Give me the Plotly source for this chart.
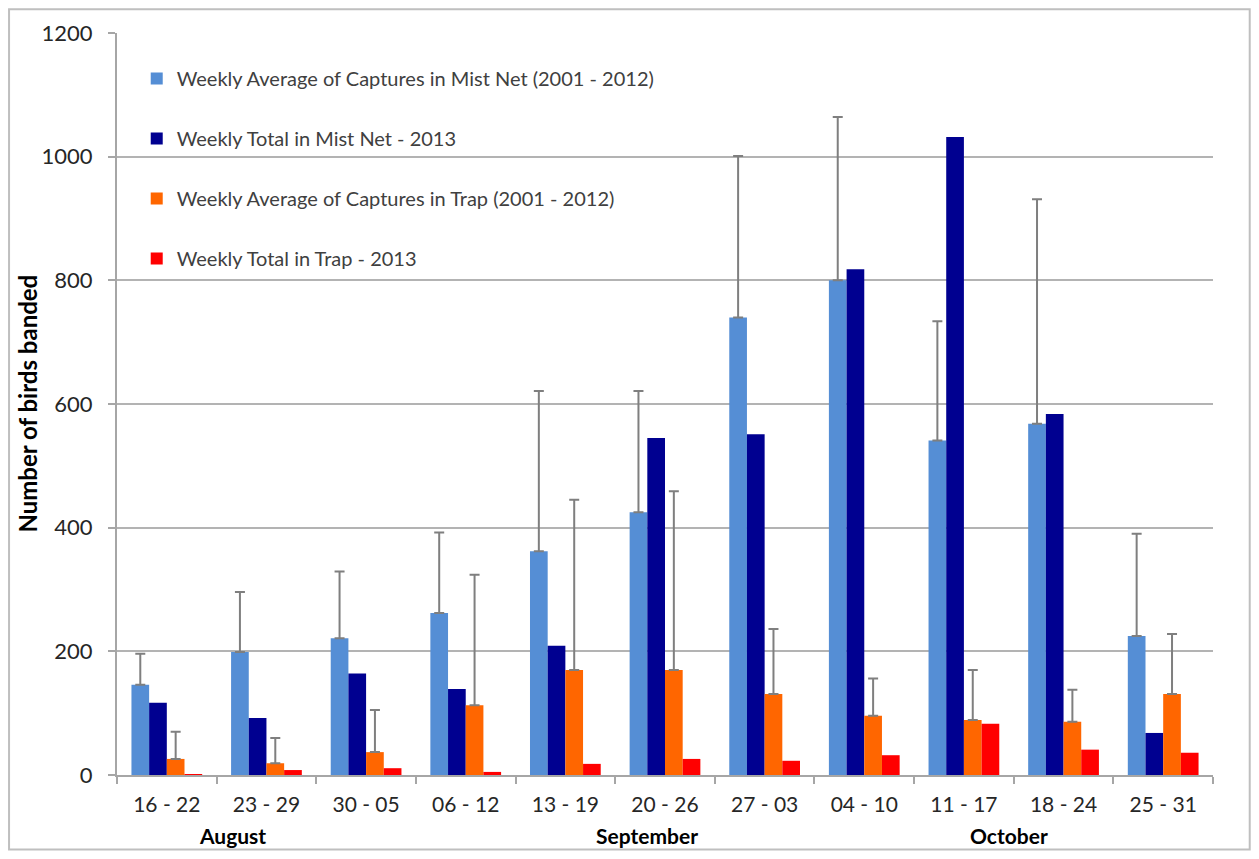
import plotly.graph_objects as go

weeks = ["16 - 22", "23 - 29", "30 - 05", "06 - 12", "13 - 19", "20 - 26",
         "27 - 03", "04 - 10", "11 - 17", "18 - 24", "25 - 31"]
months = ["August", "September", "October"]
month_pos = [0.66, 4.82, 8.45]

avg_mist = [146, 199, 221, 262, 362, 425, 740, 800, 541, 568, 225]
avg_mist_top = [196, 296, 329, 392, 621, 621, 1001, 1064, 734, 931, 390]
total_mist_2013 = [117, 92, 164, 139, 209, 545, 551, 818, 1032, 584, 68]
avg_trap = [26, 19, 37, 113, 170, 170, 131, 96, 89, 86, 131]
avg_trap_top = [70, 60, 105, 324, 445, 459, 236, 156, 170, 138, 228]
total_trap_2013 = [1, 8, 11, 5, 18, 26, 23, 32, 83, 41, 36]

names = ["Weekly Average of Captures in Mist Net (2001 - 2012)",
         "Weekly Total in Mist Net - 2013",
         "Weekly Average of Captures in Trap (2001 - 2012)",
         "Weekly Total in Trap - 2013"]
colors = ["#558ED5", "#000090", "#FF6600", "#FF0000"]

FONT = "Lato"
err_style = dict(type="data", symmetric=False, color="#7F7F7F", thickness=2, width=5)

fig = go.Figure()
series = [avg_mist, total_mist_2013, avg_trap, total_trap_2013]
tops = [avg_mist_top, None, avg_trap_top, None]
for i, (vals, top) in enumerate(zip(series, tops)):
    kw = {}
    if top is not None:
        kw["error_y"] = dict(array=[t - v for t, v in zip(top, vals)],
                             arrayminus=[0] * len(vals), **err_style)
    fig.add_trace(go.Bar(x=weeks, y=vals, name=names[i], marker_color=colors[i],
                         marker_line_width=0, legendgroup=f"g{i}", **kw))

for m, p in zip(months, month_pos):
    fig.add_annotation(x=p, xref="x", y=-0.0822, yref="paper", text=f"<b>{m}</b>",
                       showarrow=False, font=dict(family=FONT, size=21, color="#000000"),
                       xanchor="center", yanchor="middle", borderpad=0)

fig.add_annotation(x=-0.0825, xref="paper", y=0.5, yref="paper",
                   text="<b>Number of birds banded</b>", textangle=-90, showarrow=False,
                   font=dict(family=FONT, size=24, color="#000000"),
                   xanchor="center", yanchor="middle")

fig.add_shape(type="rect", xref="paper", yref="paper", x0=-0.0985, x1=1.0335,
              y0=-0.1005, y1=1.032, line=dict(color="#BFBFBF", width=2))

fig.update_layout(
    width=1243, height=843,
    margin=dict(l=109, r=38, t=25, b=76),
    paper_bgcolor="white", plot_bgcolor="white",
    barmode="group", bargap=0.29, bargroupgap=0,
    font=dict(family=FONT, size=20, color="#404040"),
    showlegend=True,
    legend=dict(x=0.018, y=0.965, xanchor="left", yanchor="top",
                traceorder="grouped", tracegroupgap=31,
                font=dict(family=FONT, size=20, color="#404040"),
                bgcolor="rgba(0,0,0,0)"),
    xaxis=dict(type="category", tickson="boundaries", ticks="outside", ticklen=7,
               tickcolor="#A6A6A6", tickwidth=2, showline=True, linecolor="#A6A6A6",
               linewidth=2, showgrid=False, tickfont=dict(family=FONT, size=21, color="#262626"),
               ticklabelstandoff=10),
    yaxis=dict(range=[0, 1200], dtick=200, ticks="outside", ticklen=7,
               tickcolor="#A6A6A6", tickwidth=2, showline=True, linecolor="#A6A6A6",
               linewidth=2, showgrid=True, gridcolor="#B3B3B3", gridwidth=2,
               zeroline=False, tickfont=dict(family=FONT, size=22, color="#262626"),
               ticklabelstandoff=11),
)

fig.write_html("out.html")
